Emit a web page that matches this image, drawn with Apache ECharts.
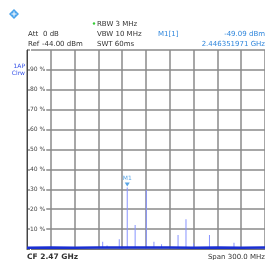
<!DOCTYPE html>
<html>
<head>
<meta charset="utf-8">
<script src="https://cdn.jsdelivr.net/npm/echarts@6/dist/echarts.min.js"></script>
<style>
html,body{margin:0;padding:0;background:#fff;}
#c{width:265px;height:260px;}
</style>
</head>
<body>
<div id="c"></div>
<script>
// Frequency axis (MHz): CF 2470 MHz, span 300 MHz
const freqMin = 2320;
const freqMax = 2620;
const freqStep = 30;
// Spectrum spikes (frequency MHz, level %)
const spikeFreq  = [2415.4, 2420.9, 2436.3, 2446.35, 2456.3, 2470.4, 2480.0, 2489.6, 2510.4, 2520.4, 2530.0, 2550.0, 2580.9];
const spikeLevel = [3.7, 1.7, 4.9, 30.9, 12.1, 29.6, 3.7, 2.4, 7.0, 14.9, 2.9, 7.0, 3.2];
// Noise floor trace
const floorFreq  = [2320, 2350, 2380, 2410, 2440, 2470, 2500, 2530, 2560, 2590, 2620];
const floorLevel = [0.6, 0.7, 0.6, 0.8, 0.7, 0.8, 0.7, 0.6, 0.7, 0.6, 0.7];
// Marker M1
const markerName = 'M1';
const markerFreq = 2446.35;
const markerLevel = 30.9;
// Y tick labels (%)
const yTicks = [10, 20, 30, 40, 50, 60, 70, 80, 90];

const FONT = 'DejaVu Sans';
const GRID = '#8a8a8a';
const BLUE_TXT = '#2f86dc';
const F7 = '7px "DejaVu Sans"';

const chart = echarts.init(document.getElementById('c'), null, {renderer: 'canvas'});
chart.setOption({
  animation: false,
  backgroundColor: '#fff',
  grid: {left: 27, top: 50, width: 240, height: 199, containLabel: false},
  xAxis: {
    type: 'value', min: freqMin, max: freqMax, interval: freqStep,
    axisLine: {show: true, onZero: false, lineStyle: {color: '#444', width: 1}},
    axisTick: {show: false}, axisLabel: {show: false},
    splitLine: {show: true, lineStyle: {color: GRID, width: 1.5}}
  },
  yAxis: {
    type: 'value', min: 0, max: 100, interval: 10,
    axisLine: {show: true, lineStyle: {color: '#444', width: 1}},
    axisTick: {show: false},
    axisLabel: {
      inside: true, margin: 3,
      color: '#444', fontFamily: FONT, fontSize: 6,
      backgroundColor: '#fff', padding: [1, 1, 1, 0],
      formatter: function (v) { return yTicks.indexOf(v) >= 0 ? v + ' %' : ''; }
    },
    splitLine: {show: true, lineStyle: {color: GRID, width: 1.5}},
    z: 3
  },
  series: [
    {
      type: 'bar', barWidth: 1, silent: true,
      itemStyle: {color: '#8794ff'},
      data: spikeFreq.map((f, i) => [f, spikeLevel[i]]),
      z: 4
    },
    {
      type: 'line', symbol: 'none', silent: true,
      lineStyle: {color: '#1a2fd2', width: 2.5},
      data: floorFreq.map((f, i) => [f, floorLevel[i]]),
      z: 5
    },
    {
      type: 'scatter', symbol: 'triangle', symbolRotate: 180, symbolSize: [5, 4],
      symbolOffset: [0, -3], silent: true,
      itemStyle: {color: '#2f8fe0'},
      label: {show: true, position: 'top', distance: 1, formatter: markerName,
        color: '#2f8fe0', fontFamily: FONT, fontSize: 6},
      data: [[markerFreq, markerLevel]],
      z: 6
    }
  ],
  graphic: [
    // logo
    {type: 'polygon', shape: {points: [[14, 9], [19, 14], [14, 19], [9, 14]]}, style: {fill: '#4aa3ec'}},
    {type: 'line', shape: {x1: 11.5, y1: 14, x2: 16.5, y2: 14}, style: {stroke: '#fff', lineWidth: 1}},
    {type: 'line', shape: {x1: 14, y1: 11.5, x2: 14, y2: 16.5}, style: {stroke: '#fff', lineWidth: 1}},
    // header
    {type: 'circle', shape: {cx: 94, cy: 23.5, r: 1.2}, style: {fill: '#33cc33'}},
    {type: 'text', style: {x: 97, y: 24, text: 'RBW 3 MHz', fill: '#333', font: F7, textVerticalAlign: 'middle'}},
    {type: 'text', style: {x: 28, y: 34, text: 'Att', fill: '#333', font: F7, textVerticalAlign: 'middle'}},
    {type: 'text', style: {x: 43, y: 34, text: '0 dB', fill: '#333', font: F7, textVerticalAlign: 'middle'}},
    {type: 'text', style: {x: 97, y: 34, text: 'VBW 10 MHz', fill: '#333', font: F7, textVerticalAlign: 'middle'}},
    {type: 'text', style: {x: 158, y: 34, text: 'M1[1]', fill: BLUE_TXT, font: F7, textVerticalAlign: 'middle'}},
    {type: 'text', style: {x: 265, y: 34, text: '-49.09 dBm', fill: BLUE_TXT, font: F7, textAlign: 'right', textVerticalAlign: 'middle'}},
    {type: 'text', style: {x: 28, y: 44, text: 'Ref', fill: '#333', font: F7, textVerticalAlign: 'middle'}},
    {type: 'text', style: {x: 42, y: 44, text: '-44.00 dBm', fill: '#333', font: F7, textVerticalAlign: 'middle'}},
    {type: 'text', style: {x: 97, y: 44, text: 'SWT 60ms', fill: '#333', font: F7, textVerticalAlign: 'middle'}},
    {type: 'text', style: {x: 265, y: 44, text: '2.446351971 GHz', fill: BLUE_TXT, font: F7, textAlign: 'right', textVerticalAlign: 'middle'}},
    // trace label
    {type: 'text', style: {x: 25, y: 66.5, text: '1AP', fill: '#3350e8', font: '6px "DejaVu Sans"', textAlign: 'right', textVerticalAlign: 'middle'}},
    {type: 'text', style: {x: 25, y: 73.5, text: 'Clrw', fill: '#3350e8', font: '6px "DejaVu Sans"', textAlign: 'right', textVerticalAlign: 'middle'}},
    // footer
    {type: 'text', style: {x: 27, y: 257, text: 'CF 2.47 GHz', fill: '#333', font: 'bold 7.5px "DejaVu Sans"', textVerticalAlign: 'middle'}},
    {type: 'text', style: {x: 265, y: 257, text: 'Span 300.0 MHz', fill: '#333', font: F7, textAlign: 'right', textVerticalAlign: 'middle'}}
  ]
});
</script>
</body>
</html>
